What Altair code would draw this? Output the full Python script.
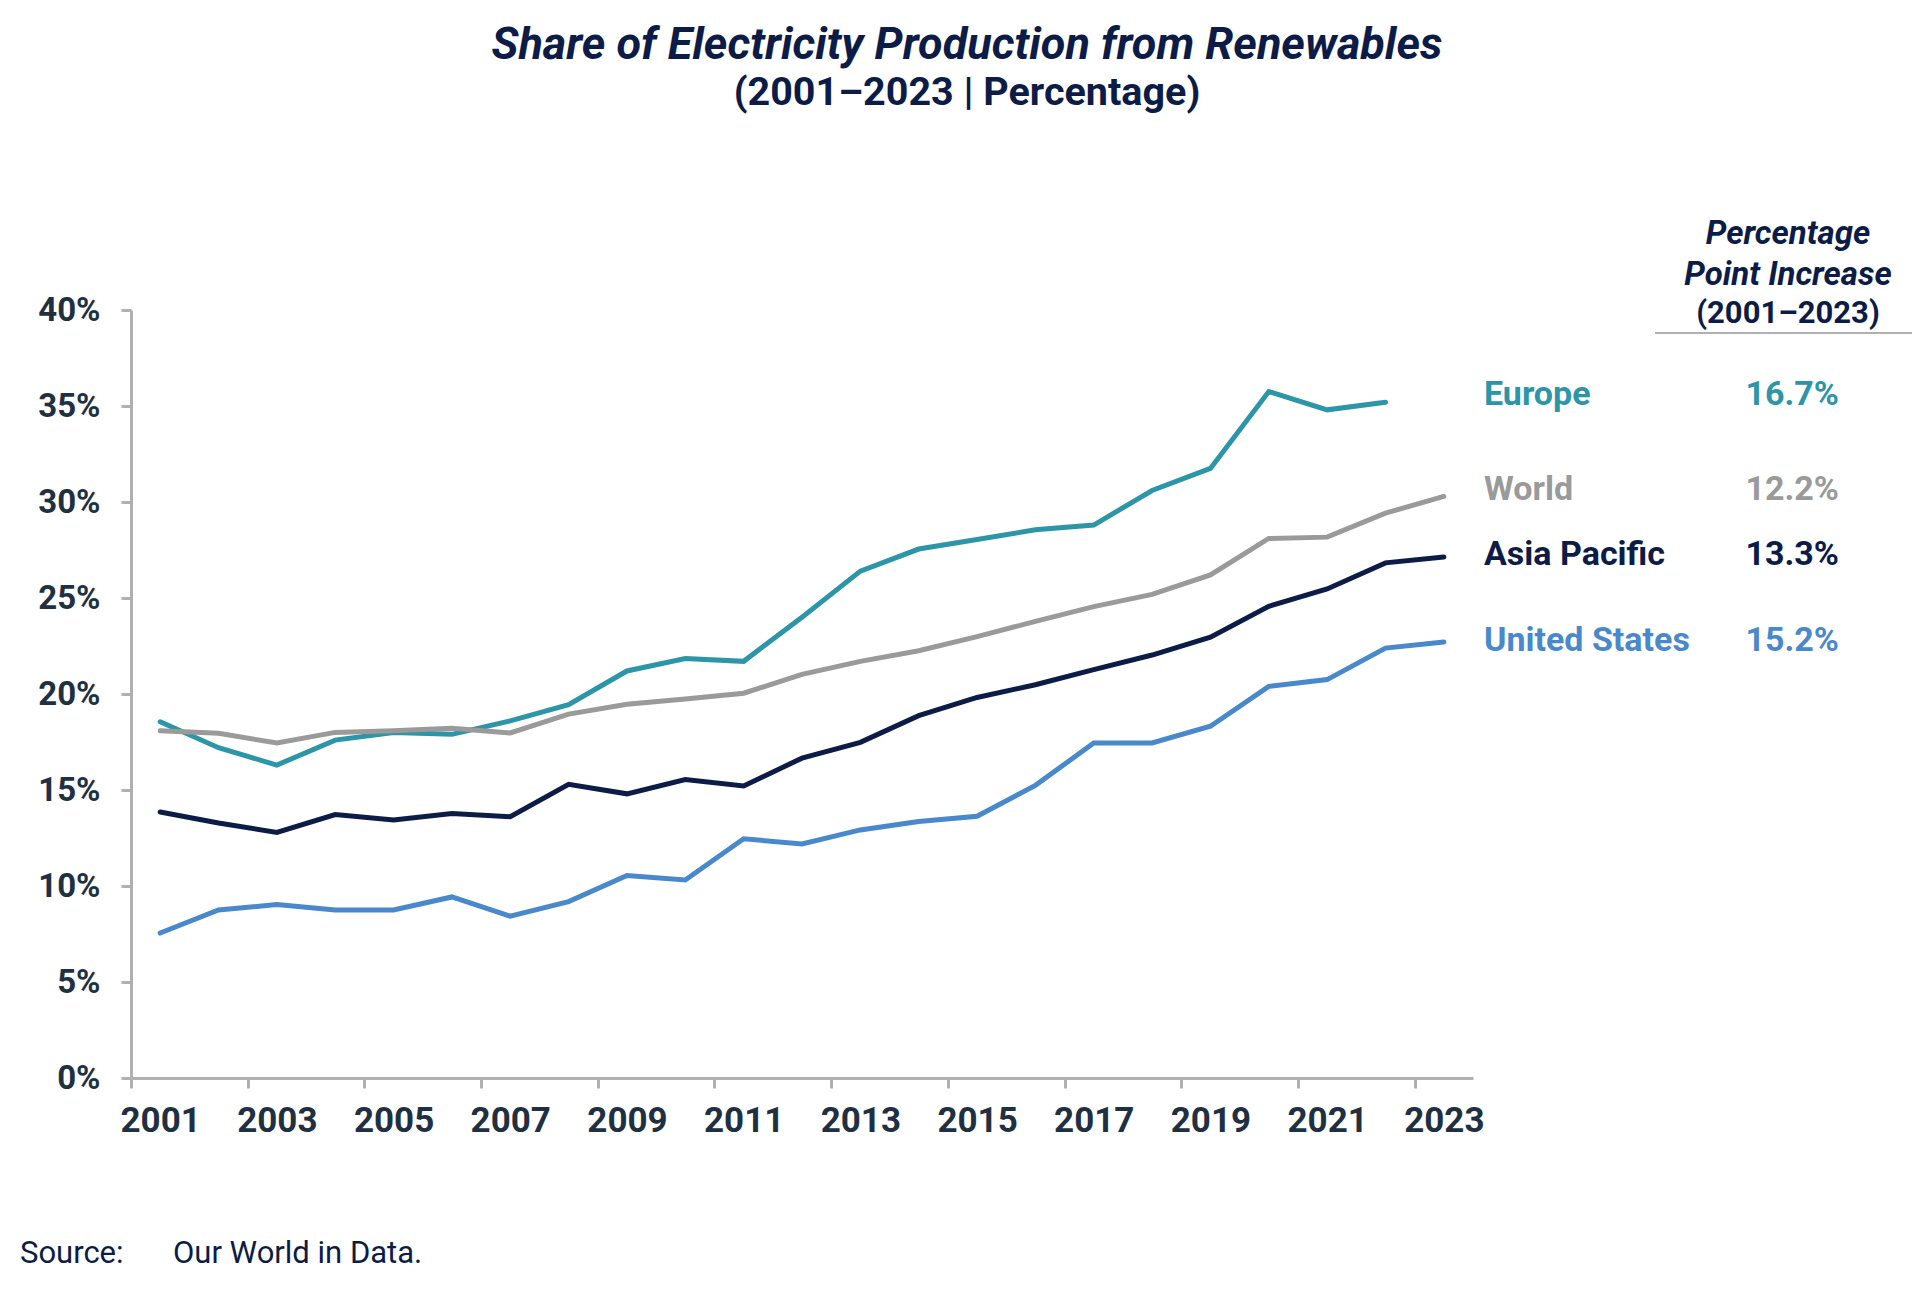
import altair as alt
import pandas as pd

# ---------------- data ----------------
years = list(range(2001, 2024))
series_names = ["Europe", "World", "Asia Pacific", "United States"]
europe = [18.55, 17.2, 16.3, 17.6, 18.0, 17.9, 18.6, 19.45, 21.2, 21.85, 21.7, 24.0,
          26.4, 27.55, 28.05, 28.55, 28.8, 30.6, 31.75, 35.75, 34.8, 35.2]
world = [18.08, 17.95, 17.45, 18.0, 18.08, 18.22, 17.97, 18.95, 19.47, 19.74, 20.04, 21.02,
         21.7, 22.25, 22.99, 23.78, 24.55, 25.19, 26.2, 28.1, 28.17, 29.42, 30.29]
asia_pacific = [13.85, 13.28, 12.79, 13.72, 13.44, 13.77, 13.61, 15.3, 14.8, 15.54, 15.21, 16.66,
                17.48, 18.87, 19.82, 20.48, 21.27, 22.03, 22.96, 24.57, 25.47, 26.83, 27.13]
united_states = [7.55, 8.75, 9.03, 8.75, 8.75, 9.43, 8.43, 9.19, 10.55, 10.31, 12.46, 12.19,
                 12.92, 13.36, 13.63, 15.24, 17.45, 17.45, 18.32, 20.4, 20.75, 22.39, 22.71]
increases = ["16.7%", "12.2%", "13.3%", "15.2%"]
x_tick_labels = list(range(2001, 2024, 2))
y_tick_values = list(range(0, 41, 5))

title_text = "Share of Electricity Production from Renewables"
subtitle_text = "(2001\u20132023 | Percentage)"
header_lines = ["Percentage", "Point Increase", "(2001\u20132023)"]
source_label = "Source:"
source_text = "Our World in Data."

# ---------------- styles / layout ----------------
palette = ["#2c95a8", "#9a9a9a", "#0c1c47", "#4a88cc"]
navy = "#0c1c47"
axis_text = "#1f3042"
axis_gray = "#b0b0b0"
FONT = "Roboto"

W, H = 1342, 768
band_half = W / 23 / 2

rows = []
for name, vals in zip(series_names, [europe, world, asia_pacific, united_states]):
    for y, v in zip(years, vals):
        rows.append({"year": y, "share": v, "series": name})
df = pd.DataFrame(rows)

color_scale = alt.Scale(domain=series_names, range=palette)

lines = alt.Chart(df).mark_line(strokeWidth=5, strokeCap="round").encode(
    x=alt.X("year:Q",
            scale=alt.Scale(domain=[2000.5, 2023.5], nice=False, zero=False),
            axis=alt.Axis(values=x_tick_labels, format="d", title=None, grid=False,
                          tickOffset=-band_half, labelOffset=band_half,
                          labelFlush=False, labelOverlap=False,
                          labelFont=FONT, labelFontSize=35, labelFontWeight="bold",
                          labelColor=axis_text, labelPadding=15,
                          domainColor=axis_gray, domainWidth=3,
                          tickColor=axis_gray, tickWidth=3, tickSize=10)),
    y=alt.Y("share:Q",
            scale=alt.Scale(domain=[0, 40], nice=False),
            axis=alt.Axis(values=y_tick_values, labelExpr="datum.value + '%'", title=None,
                          grid=False, labelFont=FONT, labelFontSize=33,
                          labelFontWeight="bold", labelColor=axis_text, labelPadding=21,
                          domainColor=axis_gray, domainWidth=3,
                          tickColor=axis_gray, tickWidth=3, tickSize=10)),
    color=alt.Color("series:N", scale=color_scale, legend=None),
    order=alt.Order("year:Q"),
    detail="series:N",
)


def text_mark(txt, px, py, size, weight="bold", style="normal", color=navy, align="left"):
    return alt.Chart(pd.DataFrame({"t": [txt]})).mark_text(
        font=FONT, fontSize=size, fontWeight=weight, fontStyle=style,
        color=color, align=align, baseline="middle",
    ).encode(x=alt.value(px), y=alt.value(py), text="t:N")


layers = [lines]
# title
layers.append(text_mark(title_text, 836, -265, 45, style="italic", align="center"))
layers.append(text_mark(subtitle_text, 836, -217, 39.5, align="center"))
# header of right-hand table
header_y = [-76, -35, 4]
header_styles = ["italic", "italic", "normal"]
header_sizes = [33, 33, 31]
for line, hy, hs, hz in zip(header_lines, header_y, header_styles, header_sizes):
    layers.append(text_mark(line, 1657, hy, hz, style=hs, align="center"))
layers.append(alt.Chart(pd.DataFrame({"a": [0]})).mark_rule(color=axis_gray, strokeWidth=2).encode(
    x=alt.value(1524), x2=alt.value(1795), y=alt.value(23)))
# right-hand table rows
row_y = [85, 180, 245, 331]
for name, inc, col, ry in zip(series_names, increases, palette, row_y):
    layers.append(text_mark(name, 1353, ry, 34, color=col))
    layers.append(text_mark(inc, 1708, ry, 34, color=col, align="right"))
# source
layers.append(text_mark(source_label, -111, 944, 31, weight="normal"))
layers.append(text_mark(source_text, 42, 944, 31, weight="normal"))

chart = alt.layer(*layers).properties(
    width=W, height=H,
    autosize=alt.AutoSizeParams(type="none"),
    padding={"left": 123, "top": 302, "right": 439, "bottom": 206},
).configure_view(stroke="transparent")

chart.save("out.html", embed_options={"renderer": "svg", "actions": False})
